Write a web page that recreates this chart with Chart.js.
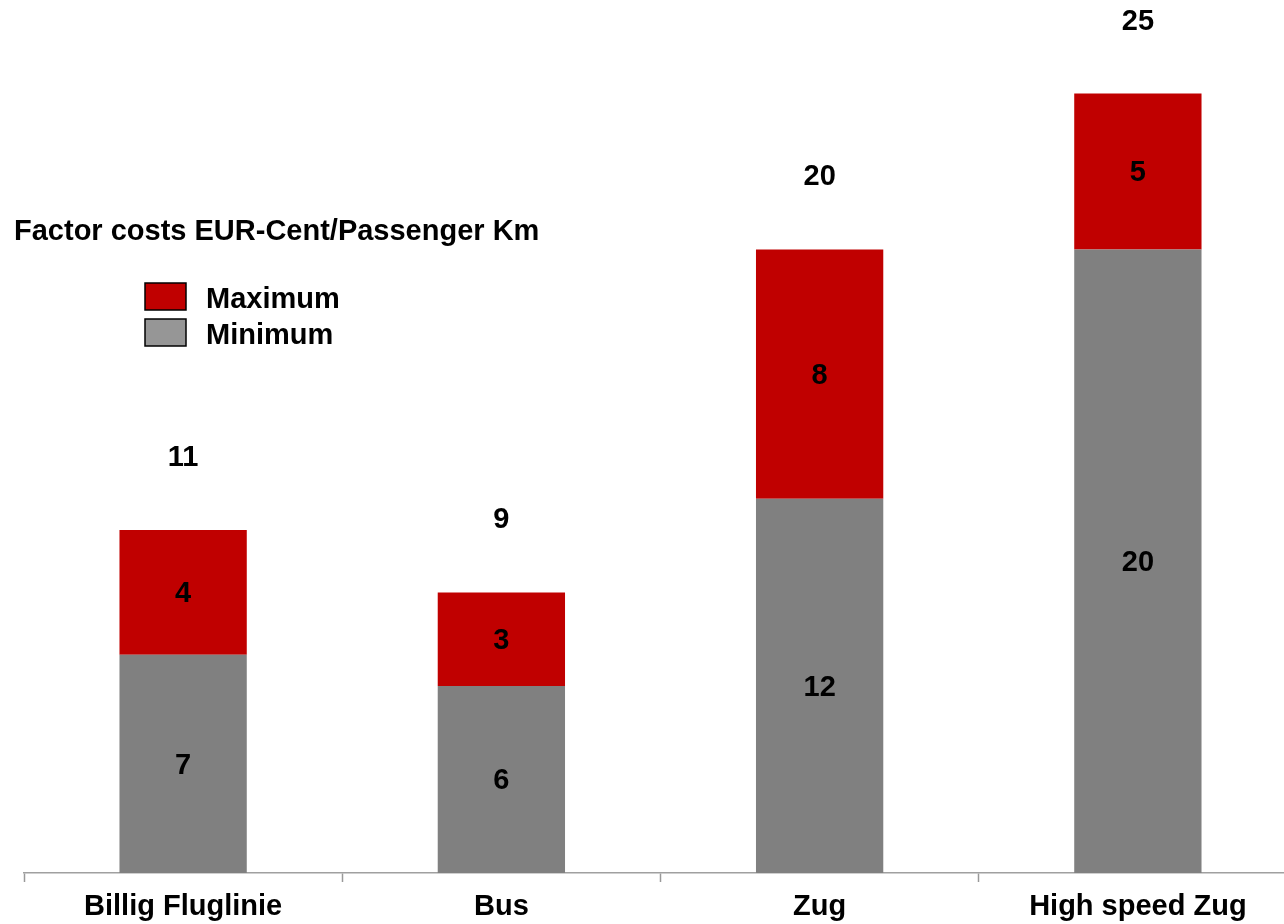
<!DOCTYPE html>
<html>
<head>
<meta charset="utf-8">
<script src="https://cdn.jsdelivr.net/npm/chart.js@4/dist/chart.umd.min.js"></script>
<style>
  html, body { margin: 0; padding: 0; background: #ffffff; overflow: hidden; }
  #wrap { width: 1284px; height: 924px; overflow: hidden; position: relative; }
  canvas { display: block; }
</style>
</head>
<body>
<div id="wrap"><canvas id="chart" width="1310" height="924"></canvas></div>
<script>
// Factor costs per passenger km, EUR cents
const categories = ['Billig Fluglinie', 'Bus', 'Zug', 'High speed Zug'];
const minimumCost = [7, 6, 12, 20];
const maximumExtra = [4, 3, 8, 5];   // added on top of the minimum
const chartTitle = 'Factor costs EUR-Cent/Passenger Km';

const FONT = '"Liberation Sans", Arial, Helvetica, sans-serif';
const FONT_SIZE = 29;
const RED = '#c00000';
const GREY = '#808080';

// Segment values inside the bars, totals above the stacks
const valueLabels = {
  id: 'valueLabels',
  afterDatasetsDraw(chart) {
    const ctx = chart.ctx;
    ctx.save();
    ctx.font = 'bold ' + FONT_SIZE + 'px ' + FONT;
    ctx.fillStyle = '#000000';
    ctx.textAlign = 'center';
    ctx.textBaseline = 'alphabetic';
    chart.data.datasets.forEach((ds, i) => {
      chart.getDatasetMeta(i).data.forEach((bar, j) => {
        const mid = (bar.y + bar.base) / 2;
        ctx.fillText(String(ds.data[j]), bar.x, mid + 10);
      });
    });
    const top = chart.getDatasetMeta(chart.data.datasets.length - 1).data;
    top.forEach((bar, j) => {
      const total = chart.data.datasets.reduce((s, ds) => s + ds.data[j], 0);
      ctx.fillText(String(total), bar.x, bar.y - 74 + 10);
    });
    ctx.restore();
  }
};

// Title and boxed legend in the upper left
const titleAndKey = {
  id: 'titleAndKey',
  afterDraw(chart) {
    const ctx = chart.ctx;
    ctx.save();
    ctx.font = 'bold ' + FONT_SIZE + 'px ' + FONT;
    ctx.fillStyle = '#000000';
    ctx.textAlign = 'left';
    ctx.textBaseline = 'alphabetic';
    ctx.fillText(chartTitle, 14, 240);

    const entries = [
      { label: chart.data.datasets[1].label, fill: RED, y: 283 },
      { label: chart.data.datasets[0].label, fill: '#969696', y: 319 }
    ];
    entries.forEach(e => {
      ctx.fillStyle = e.fill;
      ctx.fillRect(145, e.y, 41, 27);
      ctx.lineWidth = 1.5;
      ctx.strokeStyle = '#000000';
      ctx.strokeRect(145, e.y, 41, 27);
      ctx.fillStyle = '#000000';
      ctx.fillText(e.label, 206, e.y + 25);
    });
    ctx.restore();
  }
};

new Chart(document.getElementById('chart'), {
  type: 'bar',
  data: {
    labels: categories,
    datasets: [
      { label: 'Minimum', data: minimumCost, backgroundColor: GREY, borderWidth: 0,
        categoryPercentage: 0.4, barPercentage: 1.0 },
      { label: 'Maximum', data: maximumExtra, backgroundColor: RED, borderWidth: 0,
        categoryPercentage: 0.4, barPercentage: 1.0 }
    ]
  },
  options: {
    responsive: false,
    animation: false,
    layout: { padding: { left: 24, right: 13, top: 0, bottom: 0 } },
    plugins: {
      legend: { display: false },
      title: { display: false },
      tooltip: { enabled: false }
    },
    scales: {
      x: {
        stacked: true,
        offset: true,
        grid: {
          display: true,
          drawOnChartArea: false,
          drawTicks: true,
          tickLength: 9,
          tickWidth: 1.5,
          tickColor: '#999999',
          offset: true
        },
        border: { display: true, color: '#a0a0a0', width: 1.5 },
        ticks: {
          color: '#000000',
          padding: 8,
          maxRotation: 0,
          autoSkip: false,
          font: { family: FONT, size: FONT_SIZE, weight: 'bold' }
        },
        afterFit(scale) { scale.height = 51; }
      },
      y: {
        stacked: true,
        display: false,
        min: 0,
        max: 28
      }
    }
  },
  plugins: [valueLabels, titleAndKey]
});
</script>
</body>
</html>
